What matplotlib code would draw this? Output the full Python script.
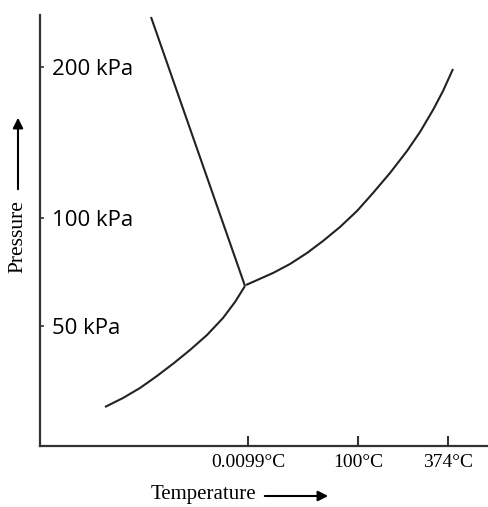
import matplotlib
matplotlib.use("Agg")
import matplotlib.pyplot as plt

# schematic phase diagram of water (positions, axis units)
fusion_x = [111, 205]
fusion_y = [429, 160]

sublim_x = [65, 83, 100, 117, 134, 150, 167, 183, 195, 205]
sublim_y = [39, 48, 58, 70, 83, 96, 111, 128, 144, 160]

vapour_x = [206, 233, 250, 267, 283, 300, 317, 333, 350, 367, 380, 393, 403, 413]
vapour_y = [161, 173, 182, 193, 205, 219, 235, 253, 273, 295, 314, 336, 355, 377]

xtick_pos = [208, 318, 408]
xtick_labels = ["0.0099°C", "100°C", "374°C"]
ytick_pos = [379, 228, 120]
ytick_labels = ["200 kPa", "100 kPa", "50 kPa"]

fig = plt.figure(figsize=(4.89, 5.07), dpi=100)
ax = fig.add_axes([40 / 489, 61 / 507, 447 / 489, 431 / 507])
ax.set_xlim(0, 447)
ax.set_ylim(0, 431)

line_kw = dict(color="#222222", lw=1.5, solid_capstyle="butt", solid_joinstyle="round")
ax.plot(fusion_x, fusion_y, **line_kw)
ax.plot(sublim_x, sublim_y, **line_kw)
ax.plot(vapour_x, vapour_y, **line_kw)

for s in ["top", "right"]:
    ax.spines[s].set_visible(False)
for s in ["left", "bottom"]:
    ax.spines[s].set_linewidth(1.6)
    ax.spines[s].set_color("#333333")

ax.set_xticks(xtick_pos)
ax.set_xticklabels(xtick_labels, fontfamily="Liberation Serif", fontsize=14)
ax.tick_params(axis="x", direction="in", length=7, width=1.5, color="#333333", pad=6)

ax.set_yticks(ytick_pos)
ax.set_yticklabels(ytick_labels, fontfamily="Open Sans", fontsize=16)
ax.tick_params(axis="y", direction="in", length=3, width=1.2, color="#333333", pad=-9)
for lbl in ax.get_yticklabels():
    lbl.set_horizontalalignment("left")

# axis titles with arrows
fig.text(18 / 489, 1 - 237 / 507, "Pressure", rotation=90, ha="center", va="center",
         fontfamily="Liberation Serif", fontsize=15.5)
fig.add_artist(matplotlib.patches.FancyArrowPatch(
    (18 / 489, 1 - 192 / 507), (18 / 489, 1 - 115 / 507), transform=fig.transFigure,
    arrowstyle="-|>,head_length=6,head_width=3", color="black", lw=1.5))
fig.text(203 / 489, 1 - 495 / 507, "Temperature", ha="center", va="center",
         fontfamily="Liberation Serif", fontsize=15)
fig.add_artist(matplotlib.patches.FancyArrowPatch(
    (262 / 489, 1 - 496 / 507), (331 / 489, 1 - 496 / 507), transform=fig.transFigure,
    arrowstyle="-|>,head_length=6,head_width=3", color="black", lw=1.5))

fig.savefig("out.png", dpi=100)
